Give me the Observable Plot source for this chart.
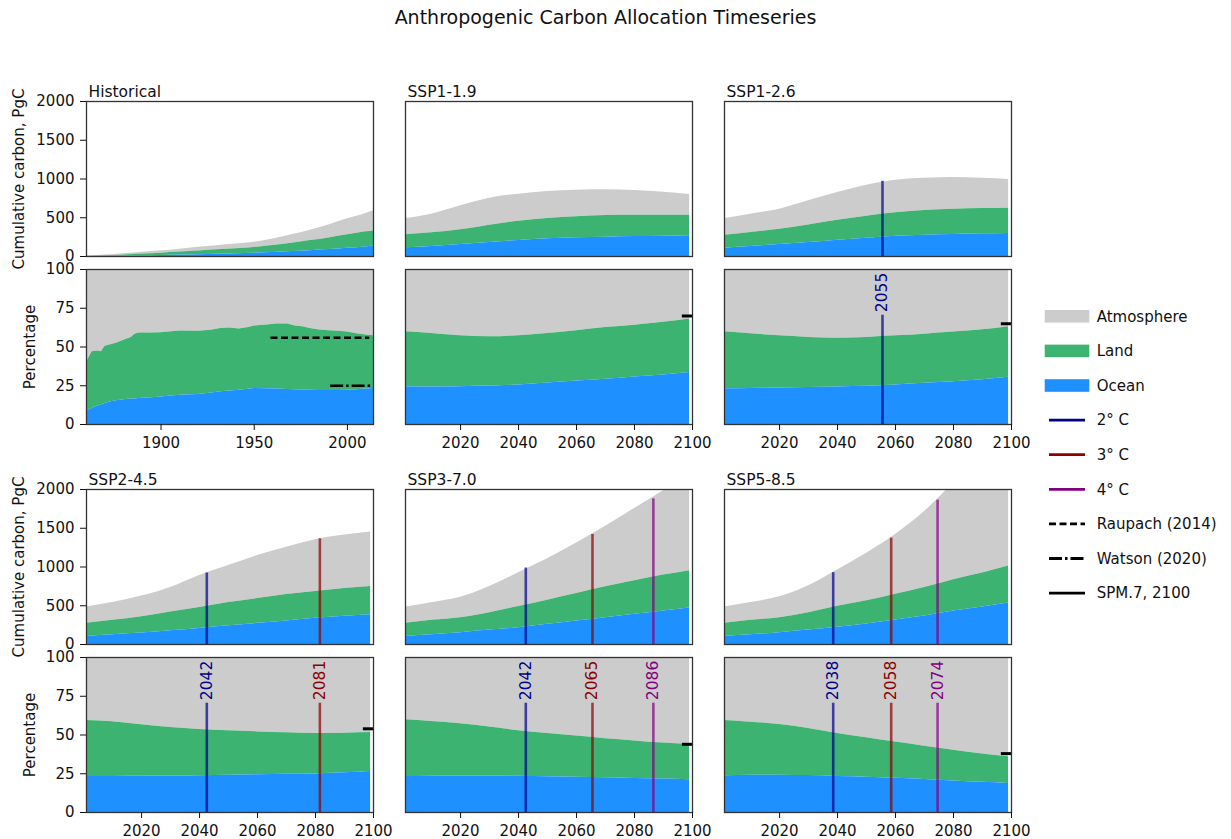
<!DOCTYPE html>
<html>
<head>
<meta charset="utf-8">
<script src="https://cdn.jsdelivr.net/npm/d3@7"></script>
<script src="https://cdn.jsdelivr.net/npm/@observablehq/plot@0.6"></script>
<style>
  body { margin: 0; background: #fff; font-family: "DejaVu Sans", sans-serif; }
  #chart { position: relative; width: 1231px; height: 839px; overflow: hidden; background: #fff; }
  #chart > svg { position: absolute; overflow: visible; }
  #title { position: absolute; left: 0; width: 1211px; text-align: center; top: 6px; font-size: 19px; color: #111; }
</style>
</head>
<body>
<div id="chart"><div id="title">Anthropogenic Carbon Allocation Timeseries</div></div>
<script>
// ---------------- DATA ----------------
// Historical cumulative carbon (PgC): boundaries of the stacked areas
const histYears = [1860, 1870, 1880, 1890, 1900, 1910, 1920, 1930, 1940, 1950, 1960, 1970, 1980, 1990, 2000, 2010, 2014];
const histOcean = [0.5, 2.5, 5.5, 9, 13, 18, 23, 29, 35, 43, 51, 63, 75, 90, 108, 124, 134];
const histSink  = [2, 9, 20, 32, 42, 57, 71, 86, 99, 117, 142, 170, 205, 240, 280, 318, 330];   // ocean + land
const histTotal = [5, 20, 37, 55, 73, 95, 118, 140, 162, 185, 225, 280, 340, 408, 486, 555, 589]; // ocean + land + atmosphere

// Historical percentages
const histPctYears = [1860, 1863, 1866, 1868, 1870, 1873, 1876, 1880, 1884, 1886, 1888, 1895, 1900, 1910, 1920, 1927, 1932, 1937, 1942, 1947,
                      1950, 1957, 1962, 1968, 1972, 1976, 1980, 1985, 1990, 1995, 2000, 2005, 2010, 2014];
const histPctSink  = [40, 47, 47.5, 47, 50.5, 51.5, 52.5, 54.4, 56.2, 58.3, 59, 59, 59.2, 60.3, 60.2, 60.8, 62, 62.2, 61.6, 62.6,
                      63.5, 64.2, 64.8, 64.8, 63.5, 63, 62, 61, 60.5, 60.2, 59.6, 58.5, 57.8, 57.2];
const histPctOcean = [8.6, 10.3, 11.9, 12.5, 13.5, 14.6, 15.3, 16.0, 16.4, 16.5, 16.7, 17.2, 17.7, 18.8, 19.4, 20.3, 21.2, 21.6, 22.1, 22.8,
                      23.3, 23.1, 22.9, 22.6, 22.5, 22.3, 22.1, 22.0, 22.0, 22.0, 22.1, 22.4, 22.9, 23.3];

// Future scenarios
const scenarioNames = ["SSP1-1.9", "SSP1-2.6", "SSP2-4.5", "SSP3-7.0", "SSP5-8.5"];
const futYears = [2001, 2010, 2020, 2030, 2040, 2050, 2060, 2070, 2080, 2090, 2099];
const cumTotal = [
  [490, 546, 654, 752, 804, 838, 856, 860, 851, 830, 800],
  [490, 546, 611, 718, 826, 920, 985, 1010, 1019, 1010, 993],
  [485, 541, 625, 736, 890, 1018, 1147, 1256, 1351, 1412, 1451],
  [485, 540, 610, 750, 925, 1105, 1310, 1525, 1755, 1985, 2210],
  [485, 541, 615, 758, 961, 1178, 1420, 1715, 2085, 2450, 2820]
];
const cumSink = [
  [280, 305, 344, 404, 456, 490, 512, 529, 533, 533, 533],
  [275, 310, 353, 408, 469, 520, 563, 593, 611, 619, 623],
  [273, 312, 359, 420, 476, 541, 593, 645, 684, 723, 749],
  [273, 312, 346, 411, 489, 572, 658, 745, 823, 896, 953],
  [273, 312, 346, 411, 494, 563, 650, 736, 836, 922, 1013]
];
const cumOcean = [
  [112, 129, 155, 181, 206, 228, 241, 249, 258, 262, 267],
  [108, 129, 155, 181, 211, 237, 262, 275, 284, 292, 297],
  [104, 126, 147, 178, 208, 242, 273, 303, 338, 364, 385],
  [104, 126, 152, 186, 216, 260, 303, 346, 390, 433, 472],
  [104, 126, 152, 186, 221, 264, 316, 368, 433, 485, 537]
];
const pctSink = [
  [59.8, 58.7, 57.2, 56.6, 57.2, 58.7, 60.5, 62.6, 64.1, 65.9, 68.0],
  [59.8, 58.5, 57.2, 56.2, 55.7, 56.2, 57.2, 58.3, 59.6, 61.1, 63.1],
  [59.4, 58.5, 56.6, 54.8, 53.5, 52.7, 52.0, 51.4, 50.9, 51.2, 51.6],
  [59.8, 58.7, 57.3, 55.2, 52.8, 51.0, 49.3, 47.6, 46.2, 44.8, 43.9],
  [59.4, 58.3, 56.8, 54.2, 51.0, 48.3, 45.5, 42.8, 40.2, 37.8, 35.9]
];
const pctOcean = [
  [24.4, 24.2, 24.4, 24.8, 25.5, 26.8, 28.0, 29.2, 30.7, 32.0, 33.5],
  [23.1, 23.3, 23.5, 23.8, 24.2, 24.6, 25.5, 26.6, 27.6, 28.9, 30.5],
  [23.2, 23.3, 23.4, 23.5, 23.7, 24.0, 24.3, 24.6, 24.9, 25.6, 26.5],
  [23.2, 23.4, 23.6, 23.5, 23.4, 23.1, 22.7, 22.4, 22.0, 21.6, 21.1],
  [23.7, 24.0, 24.1, 23.8, 23.3, 22.8, 22.1, 21.3, 20.4, 19.5, 18.7]
];

// Warming-level crossing years
const warmScenario = ["SSP1-2.6", "SSP2-4.5", "SSP2-4.5", "SSP3-7.0", "SSP3-7.0", "SSP3-7.0", "SSP5-8.5", "SSP5-8.5", "SSP5-8.5"];
const warmLevel    = ["2° C", "2° C", "3° C", "2° C", "3° C", "4° C", "2° C", "3° C", "4° C"];
const warmYear     = [2055, 2042, 2081, 2042, 2065, 2086, 2038, 2058, 2074];
const warmTotal    = [970, 922, 1364, 987, 1420, 1879, 927, 1373, 1862];

// SPM.7 sink fraction in 2100 (percent)
const spmScenario = ["SSP1-1.9", "SSP1-2.6", "SSP2-4.5", "SSP3-7.0", "SSP5-8.5"];
const spmValue    = [70, 65, 54, 44, 38];
const spmSpan     = [2096.5, 2100];

// Observational estimates on the historical percentage panel
const raupach = {value: 56, start: 1959, end: 2012};
const watson  = {value: 25, start: 1991, end: 2013};

// Tick labels
const cumTicks = [0, 500, 1000, 1500, 2000];
const pctTicks = [0, 25, 50, 75, 100];
const histTicks = [1900, 1950, 2000];
const futTicks = [2020, 2040, 2060, 2080, 2100];

// ---------------- STYLE ----------------
const colAtm = "#cccccc", colLand = "#3cb371", colOcean = "#1e90ff";
const levelColor = {"2° C": "#00008b", "3° C": "#8b0000", "4° C": "#800080"};
const colLefts = [86, 405, 724];
const rowTops = [101, 269, 489, 657];
const PW = 287, PH = 155;
const MT = 25, MB = 34, MR = 12;
const plain = d => String(d);

// ---------------- BUILD ----------------
const histCum = histYears.map((year, i) => ({year, ocean: histOcean[i], sink: histSink[i], total: histTotal[i]}));
const histPct = histPctYears.map((year, i) => ({year, ocean: histPctOcean[i], sink: histPctSink[i]}));
const warm = warmYear.map((year, i) => ({scenario: warmScenario[i], level: warmLevel[i], year, total: warmTotal[i]}));
const spm = spmValue.map((value, i) => ({scenario: spmScenario[i], value}));

const panels = [
  {title: "Historical", col: 0, row: 0, hist: true, cum: histCum, pct: histPct}
];
scenarioNames.forEach((name, s) => {
  const idx = s + 1;
  panels.push({
    title: name, col: idx % 3, row: Math.floor(idx / 3), hist: false,
    cum: futYears.map((year, i) => ({year, ocean: cumOcean[s][i], sink: cumSink[s][i], total: cumTotal[s][i]})),
    pct: futYears.map((year, i) => ({year, ocean: pctOcean[s][i], sink: pctSink[s][i]}))
  });
});

const chart = document.getElementById("chart");

function place(svg, left, top) {
  svg.style.left = left + "px";
  svg.style.top = top + "px";
  chart.appendChild(svg);
}

panels.forEach(p => {
  const ml = p.col === 0 ? 86 : 12;
  const xDomain = p.hist ? [1860, 2014] : [2001, 2100];
  const curve = "monotone-x";
  const pw = warm.filter(d => d.scenario === p.title);
  const ps = spm.filter(d => d.scenario === p.title);
  const common = {
    width: ml + PW + MR, height: MT + PH + MB,
    marginLeft: ml, marginRight: MR, marginTop: MT, marginBottom: MB,
    style: {fontFamily: "DejaVu Sans, sans-serif", fontSize: "15px", color: "#111", background: "transparent", overflow: "visible"}
  };

  // --- cumulative panel ---
  const cumMarks = [
    Plot.areaY(p.cum, {x: "year", y1: "sink", y2: "total", fill: colAtm, curve, clip: true}),
    Plot.areaY(p.cum, {x: "year", y1: "ocean", y2: "sink", fill: colLand, curve, clip: true}),
    Plot.areaY(p.cum, {x: "year", y1: 0, y2: "ocean", fill: colOcean, curve, clip: true}),
    Plot.ruleX(pw, {x: d => d.year + 0.5, y1: 0, y2: "total", stroke: d => levelColor[d.level], strokeWidth: 2.6, strokeOpacity: 0.7}),
    Plot.frame({stroke: "#333", strokeWidth: 1.3}),
    Plot.text([p.title], {frameAnchor: "top-left", dx: 2, dy: -5, lineAnchor: "bottom", textAnchor: "start", fontSize: 15.5, fill: "#111"})
  ];
  if (p.col === 0) {
    cumMarks.push(Plot.axisY({ticks: cumTicks, tickFormat: plain, tickSize: 6, tickPadding: 6, label: null}));
    cumMarks.push(Plot.text(["Cumulative carbon, PgC"], {frameAnchor: "left", dx: -67, rotate: -90, textAnchor: "middle", lineAnchor: "middle", fontSize: 15, fill: "#111"}));
  }
  const cumPlot = Plot.plot({
    ...common,
    x: {domain: xDomain, axis: null},
    y: {domain: [0, 2000], ...(p.col === 0 ? {} : {axis: null})},
    marks: cumMarks
  });
  place(cumPlot, colLefts[p.col] - ml, rowTops[p.row * 2] - MT);

  // --- percentage panel ---
  const pctCurve = p.hist ? "linear" : "monotone-x";
  const pctMarks = [
    Plot.areaY(p.pct, {x: "year", y1: "sink", y2: 100, fill: colAtm, curve: pctCurve}),
    Plot.areaY(p.pct, {x: "year", y1: "ocean", y2: "sink", fill: colLand, curve: pctCurve}),
    Plot.areaY(p.pct, {x: "year", y1: 0, y2: "ocean", fill: colOcean, curve: pctCurve}),
    Plot.ruleX(pw, {x: d => d.year + 0.5, y1: 0, y2: 70.5, stroke: d => levelColor[d.level], strokeWidth: 2.6, strokeOpacity: 0.7}),
    Plot.text(pw, {x: d => d.year + 0.5, y: 72.5, text: d => String(d.year), rotate: -90, textAnchor: "start", fill: d => levelColor[d.level], fontSize: 15.5}),
    Plot.ruleY(ps, {y: "value", x1: spmSpan[0], x2: spmSpan[1], stroke: "black", strokeWidth: 3})
  ];
  if (p.hist) {
    pctMarks.push(Plot.ruleY([raupach], {y: "value", x1: "start", x2: "end", stroke: "black", strokeWidth: 2.6, strokeDasharray: "7,3.5"}));
    pctMarks.push(Plot.ruleY([watson], {y: "value", x1: "start", x2: "end", stroke: "black", strokeWidth: 2.6, strokeDasharray: "13,3,2.5,3"}));
  }
  pctMarks.push(Plot.frame({stroke: "#333", strokeWidth: 1.3}));
  pctMarks.push(Plot.axisX({ticks: p.hist ? histTicks : futTicks, tickFormat: plain, tickSize: 6, tickPadding: 7, label: null}));
  if (p.col === 0) {
    pctMarks.push(Plot.axisY({ticks: pctTicks, tickFormat: plain, tickSize: 6, tickPadding: 6, label: null}));
    pctMarks.push(Plot.text(["Percentage"], {frameAnchor: "left", dx: -56, rotate: -90, textAnchor: "middle", lineAnchor: "middle", fontSize: 15, fill: "#111"}));
  }
  const pctPlot = Plot.plot({
    ...common,
    x: {domain: xDomain},
    y: {domain: [0, 100], ...(p.col === 0 ? {} : {axis: null})},
    marks: pctMarks
  });
  place(pctPlot, colLefts[p.col] - ml, rowTops[p.row * 2 + 1] - MT);
});

// ---------------- LEGEND ----------------
const legendItems = [
  {label: "Atmosphere", type: "patch", color: colAtm},
  {label: "Land", type: "patch", color: colLand},
  {label: "Ocean", type: "patch", color: colOcean},
  {label: "2° C", type: "line", color: levelColor["2° C"]},
  {label: "3° C", type: "line", color: levelColor["3° C"]},
  {label: "4° C", type: "line", color: levelColor["4° C"]},
  {label: "Raupach (2014)", type: "line", color: "black", dash: "7,3.5"},
  {label: "Watson (2020)", type: "line", color: "black", dash: "13,3,2.5,3"},
  {label: "SPM.7, 2100", type: "line", color: "black"}
];
const legend = d3.create("svg").attr("width", 191).attr("height", 320)
  .style("left", "1040px").style("top", "296px")
  .style("font-family", "DejaVu Sans, sans-serif").style("font-size", "15px");
const g = legend.selectAll("g").data(legendItems).join("g")
  .attr("transform", (d, i) => `translate(0,${20.3 + i * 34.6})`);
g.filter(d => d.type === "patch").append("rect")
  .attr("x", 4.7).attr("y", -6.3).attr("width", 44.6).attr("height", 12.6).attr("fill", d => d.color);
g.filter(d => d.type === "line").append("line")
  .attr("x1", 9).attr("x2", 45).attr("y1", 0).attr("y2", 0)
  .attr("stroke", d => d.color).attr("stroke-width", 2.8)
  .attr("stroke-dasharray", d => d.dash || null);
g.append("text").attr("x", 56.7).attr("y", 0).attr("dy", "0.35em").attr("fill", "#111").text(d => d.label);
chart.appendChild(legend.node());
</script>
</body>
</html>
